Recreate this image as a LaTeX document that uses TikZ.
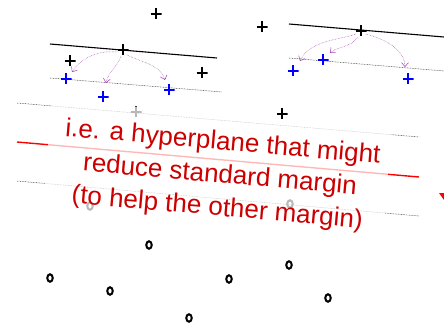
\documentclass[tikz,border=0pt]{standalone}
\usepackage{fontspec}
\setmainfont{Liberation Sans}
\usetikzlibrary{arrows.meta,shapes.geometric}
\definecolor{txtred}{RGB}{204,0,0}
\definecolor{arrpurple}{RGB}{160,60,170}
\tikzset{
  plusmark/.style={inner sep=0pt, minimum size=11pt,
    path picture={\draw[line width=2.5pt,#1]
      (path picture bounding box.north) -- (path picture bounding box.south)
      (path picture bounding box.west) -- (path picture bounding box.east);}},
  plusmark/.default=black,
  omark/.style={draw, ellipse, inner sep=0pt, minimum width=5.5pt, minimum height=7.5pt, line width=2pt},
  dotline/.style={black!75, line width=0.5pt, dash pattern=on 0.8pt off 0.8pt},
  solidline/.style={black, line width=1.1pt},
  purparrow/.style={arrpurple, line width=0.5pt, densely dotted, -{Straight Barb[length=4pt,width=7pt]}},
}
\begin{document}
\begin{tikzpicture}[x=1pt,y=-1pt]
\useasboundingbox (0,0) rectangle (444,326);
% margin lines
\coordinate (l1a) at (50,44); \coordinate (l1b) at (217,58);
\coordinate (l2a) at (50,78); \coordinate (l2b) at (222,92);
\coordinate (r1a) at (289,24); \coordinate (r1b) at (444,37);
\coordinate (r2a) at (289,58); \coordinate (r2b) at (444,71);
\coordinate (b1a) at (17,103); \coordinate (b1b) at (419,137);
\coordinate (ra) at (17,142); \coordinate (rb) at (419,177);
\coordinate (b2a) at (17,181); \coordinate (b2b) at (419,216);
\draw[solidline] (l1a) -- (l1b);
\draw[dotline] (l2a) -- (l2b);
\draw[solidline] (r1a) -- (r1b);
\draw[dotline] (r2a) -- (r2b);
\draw[dotline] (b1a) -- (b1b);
\draw[red, line width=1.4pt] (ra) -- (rb);
\draw[dotline] (b2a) -- (b2b);
% plus markers
\node[plusmark] (p1) at (156,14) {};
\node[plusmark] (p2) at (262,27) {};
\node[plusmark] (p3) at (123,50) {};
\node[plusmark] (p4) at (70,61) {};
\node[plusmark] (p5) at (202,73) {};
\node[plusmark] (p6) at (361,31) {};
\node[plusmark] (p7) at (282,114) {};
\node[plusmark] (p8) at (136,112) {};
\node[plusmark=blue] (q1) at (66,79) {};
\node[plusmark=blue] (q2) at (103,97) {};
\node[plusmark=blue] (q3) at (169,90) {};
\node[plusmark=blue] (q4) at (323,60) {};
\node[plusmark=blue] (q5) at (293,71) {};
\node[plusmark=blue] (q6) at (408,79) {};
% circle markers
\node[omark] (o1) at (90,206) {};
\node[omark] (o2) at (290,204) {};
\node[omark] (o3) at (149,245) {};
\node[omark] (o4) at (50,278) {};
\node[omark] (o5) at (110,291) {};
\node[omark] (o6) at (229,279) {};
\node[omark] (o7) at (289,265) {};
\node[omark] (o8) at (328,298) {};
\node[omark] (o9) at (189,318) {};
% translucent box behind the text
\node[rotate=-5, fill=white, fill opacity=0.72, inner sep=0pt,
  minimum width=341pt, minimum height=112pt] (tbox) at (217,170) {};
% text
\node[rotate=-5, text=txtred, align=center, inner sep=0pt,
  font=\fontsize{26}{33}\selectfont]
  (txt) at (220,176) {i.e. a hyperplane that might\\reduce standard margin\\(to help the other margin)};
% red arrow tip at edge
\fill[red] (439,193) -- (444,193) -- (444,200) -- cycle;
% purple arrows
\coordinate (a1s) at (117,52); \coordinate (a1e) at (72,72);
\coordinate (a2s) at (121,56); \coordinate (a2e) at (106,83);
\coordinate (a3s) at (127,55); \coordinate (a3e) at (165,80);
\coordinate (b1s) at (356,34); \coordinate (b1e) at (300,61);
\coordinate (b2s) at (358,37); \coordinate (b2e) at (330,53);
\coordinate (b3s) at (366,34); \coordinate (b3e) at (405,67);
\draw[purparrow] (a1s) .. controls (95,50) and (80,60) .. (a1e);
\draw[purparrow] (a2s) .. controls (118,66) and (108,72) .. (a2e);
\draw[purparrow] (a3s) .. controls (140,62) and (160,64) .. (a3e);
\draw[purparrow] (b1s) .. controls (340,40) and (310,40) .. (b1e);
\draw[purparrow] (b2s) .. controls (350,48) and (338,46) .. (b2e);
\draw[purparrow] (b3s) .. controls (395,42) and (405,55) .. (b3e);
\end{tikzpicture}
\end{document}
